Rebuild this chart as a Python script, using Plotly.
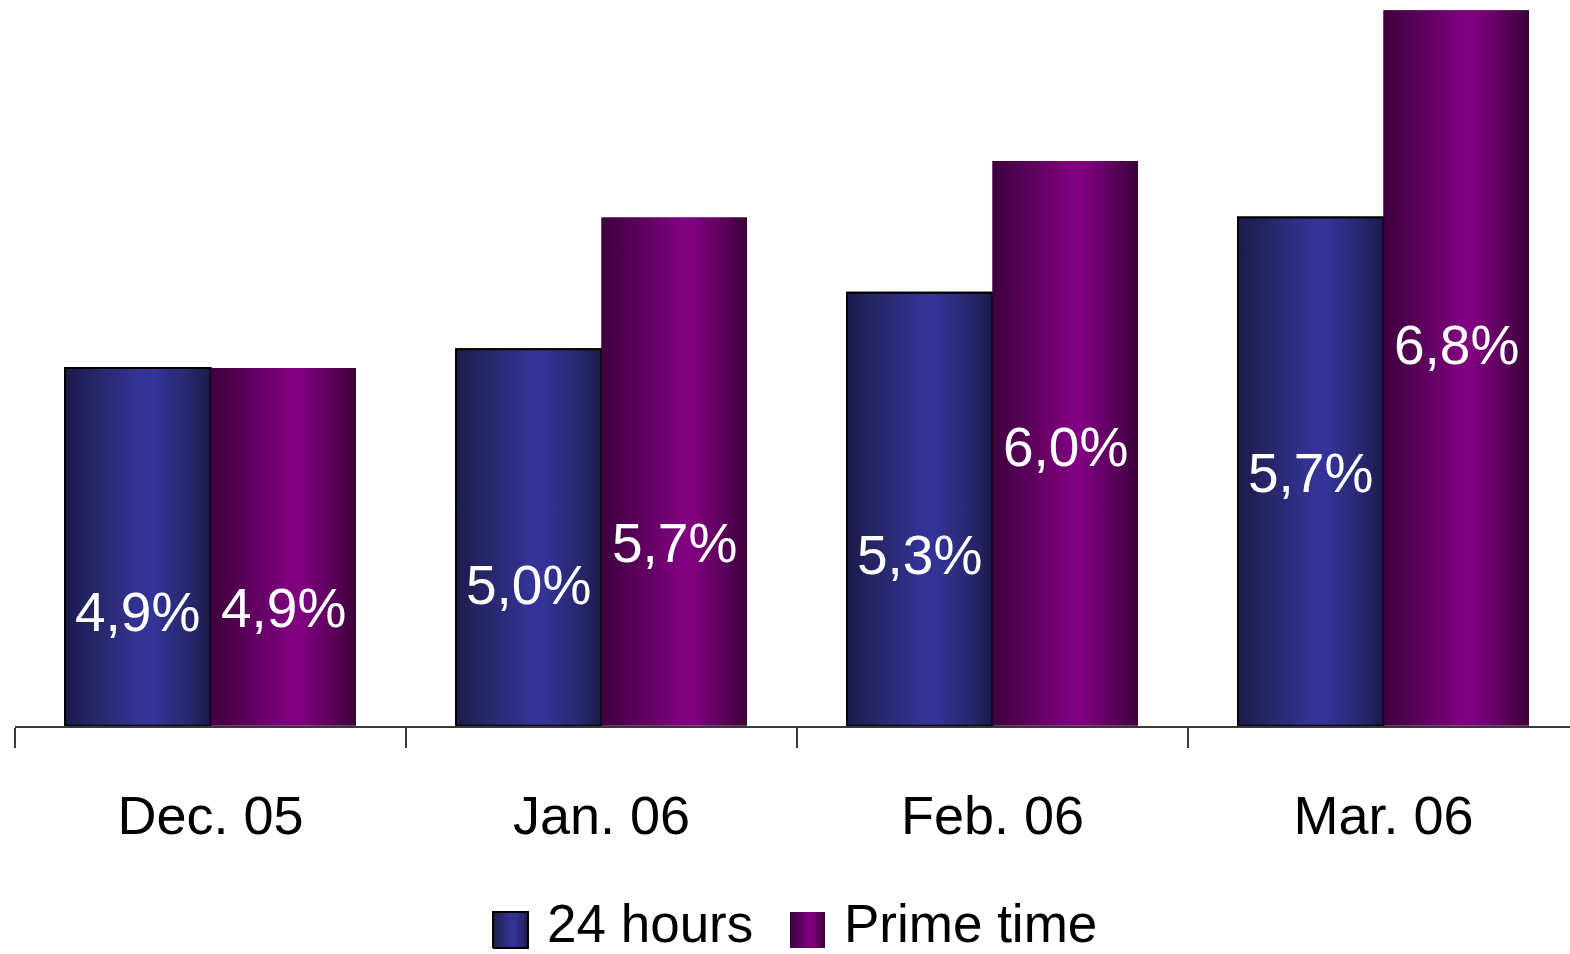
import plotly.graph_objects as go

# ---- data -------------------------------------------------------------
categories = ["Dec. 05", "Jan. 06", "Feb. 06", "Mar. 06"]
hours_24 = [4.9, 5.0, 5.3, 5.7]
prime_time = [4.9, 5.7, 6.0, 6.8]
series_names = ["24 hours", "Prime time"]

# vertical placement of the value labels, as a fraction of each bar's height
label_pos_24 = [0.317, 0.374, 0.394, 0.497]
label_pos_prime = [0.328, 0.359, 0.493, 0.532]

# ---- styling ----------------------------------------------------------
Y_MIN, Y_MAX = 3.0, 6.855
BAR_W = 0.372
FONT = "Liberation Sans"
NAVY_SCALE = [[0, "#1b1b4d"], [0.15, "#23235f"], [0.5, "#333394"], [0.6, "#343499"],
              [0.85, "#27276e"], [1, "#1a1a48"]]
PURPLE_SCALE = [[0, "#3e003e"], [0.15, "#4e004e"], [0.55, "#800080"], [0.62, "#800080"],
                [0.85, "#580058"], [1, "#3a0038"]]
NAVY_MID, PURPLE_MID = "#2c2c85", "#6e006e"

xs = list(range(len(categories)))
fig = go.Figure()

series = [
    (series_names[0], hours_24, -BAR_W, NAVY_SCALE, NAVY_MID, "#000000", 2, label_pos_24),
    (series_names[1], prime_time, 0.0, PURPLE_SCALE, PURPLE_MID, "rgba(0,0,0,0)", 0, label_pos_prime),
]

annotations = []
for name, vals, off, scale, mid, edge, edge_w, lpos in series:
    # base bars carrying the data
    fig.add_trace(go.Bar(
        x=xs, y=[v - Y_MIN for v in vals], base=Y_MIN, width=BAR_W, offset=off,
        name=name, marker=dict(color=mid, line=dict(color=edge, width=edge_w)),
        showlegend=False, hoverinfo="skip",
    ))
    # cylinder-like horizontal shading on top of each bar
    for i, v in enumerate(vals):
        left, right = xs[i] + off, xs[i] + off + BAR_W
        fig.add_trace(go.Scatter(
            x=[left, right, right, left, left],
            y=[Y_MIN, Y_MIN, v, v, Y_MIN],
            mode="lines", fill="toself",
            fillgradient=dict(type="horizontal", colorscale=scale),
            line=dict(color=edge, width=edge_w),
            showlegend=False, hoverinfo="skip",
        ))
        annotations.append(dict(
            x=xs[i] + off + BAR_W / 2, y=Y_MIN + lpos[i] * (v - Y_MIN),
            xref="x", yref="y", text=f"{v:.1f}".replace(".", ",") + "%",
            showarrow=False, xanchor="center", yanchor="middle",
            font=dict(family=FONT, size=55, color="white"),
        ))

# legend keys drawn on a pixel-scaled overlay axis
legend_keys = [(493, NAVY_SCALE, "#000000", 2), (790, PURPLE_SCALE, "rgba(0,0,0,0)", 0)]
for (kx, scale, edge, edge_w), name in zip(legend_keys, series_names):
    fig.add_trace(go.Scatter(
        x=[kx, kx + 35, kx + 35, kx, kx], y=[948, 948, 912, 912, 948],
        xaxis="x2", yaxis="y2", mode="lines", fill="toself",
        fillgradient=dict(type="horizontal", colorscale=scale),
        line=dict(color=edge, width=edge_w), showlegend=False, hoverinfo="skip",
    ))
    annotations.append(dict(
        x=kx + 53, y=954, xref="x2", yref="y2", text=name, showarrow=False,
        xanchor="left", yanchor="bottom", borderpad=0,
        font=dict(family=FONT, size=53, color="black"),
    ))

fig.update_layout(
    width=1570, height=954,
    margin=dict(l=0, r=0, t=0, b=0),
    paper_bgcolor="white", plot_bgcolor="rgba(0,0,0,0)",
    barmode="overlay", showlegend=False,
    xaxis=dict(
        domain=[15 / 1570, 1], range=[-0.5, 3.477],
        showline=True, linecolor="#3a3a3a", linewidth=2,
        showgrid=False, zeroline=False,
        tickmode="array", tickvals=xs, ticktext=categories, ticks="",
        ticklabelstandoff=41,
        tickfont=dict(family=FONT, size=54, color="black"),
        minor=dict(ticks="outside", tickmode="array",
                   tickvals=[i - 0.5 for i in xs], ticklen=20, tickwidth=2,
                   tickcolor="#3a3a3a", showgrid=False),
        fixedrange=True,
    ),
    yaxis=dict(
        domain=[1 - 725.7 / 954, 1], range=[Y_MIN, Y_MAX],
        visible=False, fixedrange=True,
    ),
    xaxis2=dict(domain=[0, 1], range=[0, 1570], anchor="y2", visible=False, fixedrange=True),
    yaxis2=dict(domain=[0, 1], range=[954, 0], anchor="x2", visible=False, fixedrange=True),
    annotations=annotations,
)

fig.write_html("out.html")
